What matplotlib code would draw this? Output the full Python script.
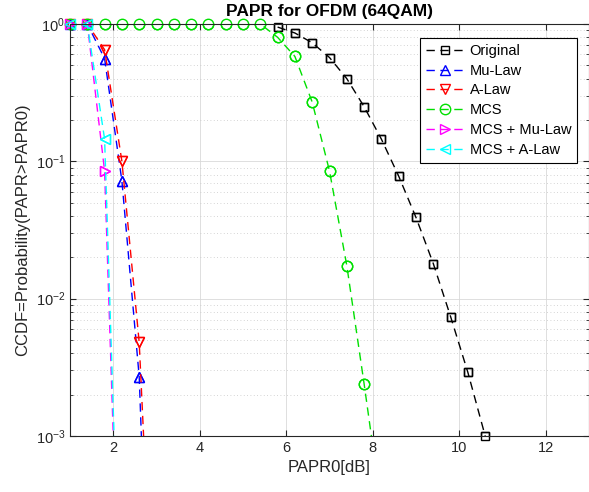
import numpy as np
import matplotlib
matplotlib.use("Agg")
import matplotlib.pyplot as plt

plt.rcParams['font.family'] = ['Liberation Sans', 'DejaVu Sans']

# PAPR0 grid [dB]
papr0 = [1.0, 1.4, 1.8, 2.2, 2.6, 3.0, 3.4, 3.8, 4.2, 4.6, 5.0, 5.4,
         5.8, 6.2, 6.6, 7.0, 7.4, 7.8, 8.2, 8.6, 9.0, 9.4, 9.8, 10.2, 10.6]

# CCDF values (None = not plotted)
original = [None] * 12 + [0.95, 0.86, 0.73, 0.57, 0.40, 0.25, 0.145, 0.078,
                          0.039, 0.018, 0.0074, 0.0029, 0.001]
mu_law = [1, 1, 0.56, 0.072, 0.0027, 1e-6] + [None] * 19
a_law = [1, 1, 0.65, 0.10, 0.0048, 1e-5] + [None] * 19
mcs = [1, 1, 1, 1, 1, 1, 1, 1, 1, 1, 1, 1,
       0.80, 0.58, 0.27, 0.085, 0.0174, 0.0024, 0.0003] + [None] * 6
mcs_mu = [1, 1, 0.085, 1.2e-5] + [None] * 21
mcs_a = [1, 1, 0.145, 1.7e-5] + [None] * 21

labels = ["Original", "Mu-Law", "A-Law", "MCS", "MCS + Mu-Law", "MCS + A-Law"]
series = [original, mu_law, a_law, mcs, mcs_mu, mcs_a]
colors = ["k", "#0000ff", "#ff0000", "#00e000", "#ff00ff", "#00ffff"]
markers = ["s", "^", "v", "o", ">", "<"]
msizes = [6, 7.5, 7.5, 7.5, 7.5, 7.5]

fig = plt.figure(figsize=(5.89, 4.92), dpi=100)
ax = fig.add_axes([70 / 589, 56 / 492, 519 / 589, 412 / 492])

x = np.array(papr0)
for y, lab, c, m, ms in zip(series, labels, colors, markers, msizes):
    y = np.array(y, dtype=float)
    ax.semilogy(x, y, linestyle=(0, (6, 4)), color=c, lw=1.0, marker=m,
                mfc="none", mec=c, ms=ms, mew=1.0, label=lab)
    # MATLAB does not clip markers at the axes edge
    keep = y >= 0.00095
    ax.semilogy(x[keep], y[keep], linestyle="none", marker=m, mfc="none",
                mec=c, ms=ms, mew=1.0, clip_on=False)

ax.set_xlim(1, 13)
ax.set_ylim(1e-3, 1)
ax.set_xticks([2, 4, 6, 8, 10, 12])

ax.grid(True, which="major", color="0.85", lw=0.6, ls="-")
ax.yaxis.grid(True, which="minor", color="0.78", lw=0.6, ls=(0, (1, 3)))
ax.set_axisbelow(True)

ax.tick_params(which="both", direction="in", top=True, right=True,
               colors="0.15", labelsize=10.5)
ax.tick_params(which="major", length=4)
ax.tick_params(which="minor", length=2.5)
ax.tick_params(axis="x", which="minor", bottom=False, top=False)
for s in ax.spines.values():
    s.set_color("0.15")
    s.set_linewidth(0.8)

ax.set_title("PAPR for OFDM (64QAM)", fontsize=12.5, fontweight="bold", pad=6)
ax.set_xlabel("PAPR0[dB]", fontsize=12, color="0.15", labelpad=4)
ax.set_ylabel("CCDF=Probability(PAPR>PAPR0)", fontsize=12, color="0.15", labelpad=4)

leg = ax.legend(loc="upper right", bbox_to_anchor=(507 / 519, 398 / 412),
                borderaxespad=0, fontsize=10.5, fancybox=False, framealpha=1,
                edgecolor="k", labelspacing=0.4, handlelength=2.6,
                handletextpad=0.4, borderpad=0.4)
leg.get_frame().set_linewidth(0.8)

fig.savefig("out.png", dpi=100)
